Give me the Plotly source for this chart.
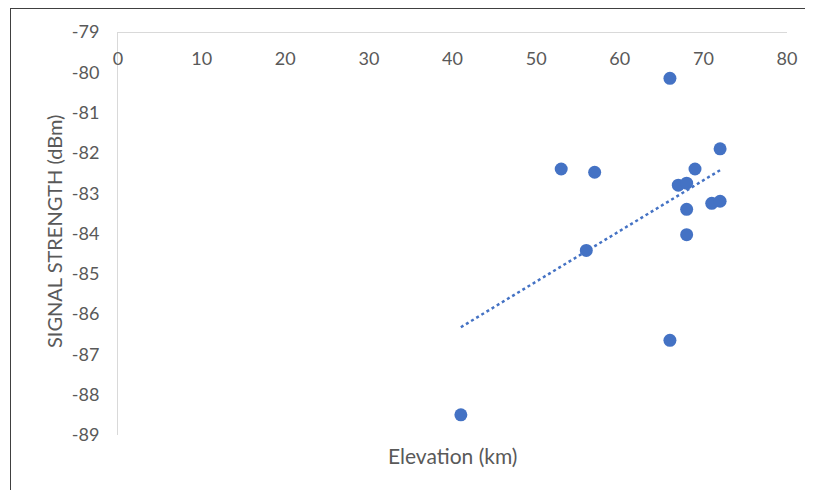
import numpy as np
import plotly.graph_objects as go

elevation = [66, 72, 53, 57, 69, 67, 68, 68, 71, 72, 68, 56, 66, 41]
signal = [-80.15, -81.9, -82.4, -82.48, -82.4, -82.8, -82.75, -83.4, -83.25, -83.2, -84.03, -84.42, -86.65, -88.5]

x_ticks = [0, 10, 20, 30, 40, 50, 60, 70, 80]
y_ticks = list(range(-89, -78))
y_tick_text = [str(v) for v in y_ticks]

blue = "#4472C4"
grey_txt = "#595959"
font_family = "Lato, 'Open Sans', sans-serif"

slope, intercept = np.polyfit(elevation, signal, 1)
tx = np.array([min(elevation), max(elevation)])
ty = slope * tx + intercept

fig = go.Figure()
fig.add_trace(go.Scatter(x=tx, y=ty, mode="lines",
                         line=dict(color=blue, width=2.5, dash="dot"),
                         showlegend=False, hoverinfo="skip"))
fig.add_trace(go.Scatter(x=elevation, y=signal, mode="markers",
                         marker=dict(color=blue, size=13),
                         showlegend=False))

# page body adds an 8px offset; size the figure to fit the window
W, H = 805, 482
ml, mt = 110, 24
pw, ph = 669, 403
mr, mb = W - ml - pw, H - mt - ph

def px_x(x):
    return (x - ml) / pw

def px_y(y):
    return (mt + ph - y) / ph

fig.update_layout(
    width=W, height=H,
    margin=dict(l=ml, r=mr, t=mt, b=mb),
    paper_bgcolor="white", plot_bgcolor="white",
    font=dict(family=font_family, size=18, color=grey_txt),
    xaxis=dict(range=[0, 80], tickvals=x_ticks,
               anchor="free", position=1, side="bottom",
               ticks="outside", ticklen=10, tickcolor="rgba(0,0,0,0)",
               showline=True, linecolor="#d9d9d9", linewidth=1,
               showgrid=False, zeroline=False,
               tickfont=dict(size=18, color=grey_txt)),
    yaxis=dict(range=[-89, -79], tickvals=y_ticks, ticktext=y_tick_text,
               showline=True, linecolor="#d9d9d9", linewidth=1,
               showgrid=False, zeroline=False,
               ticks="outside", ticklen=14, tickcolor="rgba(0,0,0,0)",
               tickfont=dict(size=18, color=grey_txt)),
    annotations=[
        dict(text="Elevation (km)", xref="paper", yref="paper",
             x=0.5, y=px_y(447), showarrow=False,
             xanchor="center", yanchor="middle",
             font=dict(size=21, color=grey_txt)),
        dict(text="SIGNAL STRENGTH (dBm)", xref="paper", yref="paper",
             x=px_x(46), y=px_y(224), showarrow=False, textangle=-90,
             xanchor="center", yanchor="middle",
             font=dict(size=20, color=grey_txt)),
    ],
    shapes=[
        dict(type="line", xref="paper", yref="paper",
             x0=px_x(2), x1=px_x(W),
             y0=px_y(0.5), y1=px_y(0.5),
             line=dict(color="#404040", width=1)),
        dict(type="line", xref="paper", yref="paper",
             x0=px_x(2.5), x1=px_x(2.5),
             y0=px_y(0.5), y1=px_y(H + 5),
             line=dict(color="#404040", width=1)),
    ],
)

fig.write_html("out.html")
